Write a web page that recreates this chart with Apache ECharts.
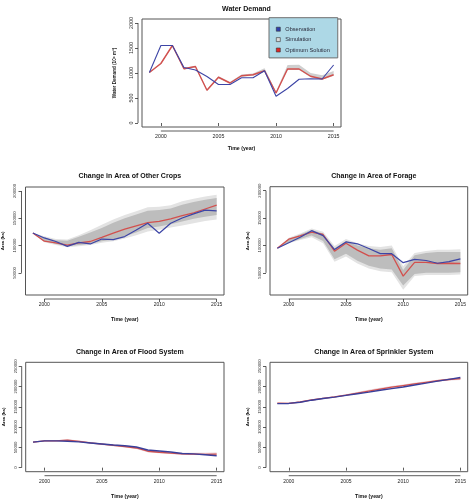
<!DOCTYPE html>
<html>
<head>
<meta charset="utf-8">
<script src="https://cdn.jsdelivr.net/npm/echarts@6/dist/echarts.min.js"></script>
<style>
html,body{margin:0;padding:0;background:#fff;}
#c{width:473px;height:500px;}
</style>
</head>
<body>
<div id="c"></div>
<script>
// ---------- data ----------
const years = [1999,2000,2001,2002,2003,2004,2005,2006,2007,2008,2009,2010,2011,2012,2013,2014,2015];
const xTicks = [2000,2005,2010,2015];

// Water Demand (10^6 m^3)
const wdObs     = [1010,1550,1550,1110,1060,930,770,770,905,905,1045,535,690,875,885,880,1160];
const wdOpt     = [1010,1190,1550,1085,1130,655,915,800,945,965,1045,600,1080,1080,935,880,965];
const wdSimLow  = [1000,1175,1535,1070,1110,640,895,785,925,945,1025,585,1060,1060,915,865,945];
const wdSimHigh = [1020,1205,1560,1100,1145,675,935,820,970,990,1095,625,1160,1165,1000,955,1040];
const wdTicks = [0,500,1000,1500,2000];

// Other Crops (ha)
const ocObs  = [123000,114000,107500,98500,106000,103000,112000,111000,116500,128500,141000,122500,141000,150500,158000,165000,163500];
const ocOpt  = [123000,108000,105000,101000,105000,107500,115000,123000,130000,136000,142000,144500,149000,155000,160000,167000,174000];
const ocLow  = [123000,108000,103000,99000,101000,103000,108000,111000,117000,124000,132000,135000,139000,144000,149000,153000,156000];
const ocHigh = [123000,115000,110000,109000,116000,124000,132000,142000,150000,157000,164000,165000,168000,175000,180000,184000,187000];
const ocMin  = [123000,106000,101000,97000,99000,101000,105000,108000,113000,119000,126000,129000,133000,137000,141000,145000,148000];
const ocMax  = [123000,117000,112000,111000,119000,128000,138000,148000,156000,163000,170000,171000,174000,181000,186000,190000,193000];

// Forage (ha)
const fgObs  = [95000,105000,115000,127000,118000,92500,106500,103000,94500,85000,85000,68500,74500,72500,67500,70500,75500];
const fgOpt  = [95000,111500,117500,124500,120000,89500,104000,91500,81000,81000,83500,44000,69000,69000,67000,67500,67000];
const fgLow  = [95000,105000,112000,118000,108000,75000,85000,72000,63000,58000,56000,27000,48000,50000,50000,50000,51000];
const fgHigh = [95000,112000,120000,128000,122000,95000,108000,100000,95000,92000,95000,55000,82000,86000,88000,88000,88000];
const fgMin  = [95000,104000,110000,115000,104000,70000,80000,67000,58000,53000,51000,19000,44000,46000,46000,46000,47000];
const fgMax  = [95000,114000,122000,131000,125000,99000,112000,104000,99000,97000,100000,62000,86000,90000,92000,92000,93000];

// Flood System (ha)
const flObs  = [63000,66000,66000,65000,63500,61000,58500,56000,54000,51000,43500,41000,38500,35000,34000,32000,29500];
const flOpt  = [63000,66000,66000,68000,65000,61000,58000,55000,52000,48500,40500,38000,36000,34000,33500,33000,33500];
const flLow  = [62000,65000,65000,66000,63000,59000,56000,53000,50000,46000,38000,35500,33500,31500,31000,30500,31000];
const flHigh = [64000,67000,67500,70000,67000,63000,60000,57500,55000,51500,43000,40500,38500,36500,36500,36500,37500];

// Sprinkler System (ha)
const spObs  = [158000,158500,161500,166500,170500,174000,178500,182500,186500,191000,195000,199000,204000,208500,213500,218000,222500];
const spOpt  = [159000,158500,162000,167000,171000,174500,179000,184000,189000,194000,198500,202500,206500,210500,214500,217500,219500];
const spLow  = [157500,157000,160500,165500,169500,173000,177500,182000,187000,191500,196000,200000,204000,208000,212000,215000,216500];
const spHigh = [160000,160000,163500,168500,172500,176500,181000,186500,192000,197000,201500,205500,209500,213500,217000,220000,222000];

const areaTicksMid = [50000,100000,150000,200000];
const areaTicksBot = [0,50000,100000,150000,200000,250000];

const titles = ['Water Demand','Change in Area of Other Crops','Change in Area of Forage','Change in Area of Flood System','Change in Area of Sprinkler System'];

// ---------- layout / style ----------
const BLUE = '#3d45a6', RED = '#d2504e';
const FONT = '"Liberation Sans", Arial, Helvetica, sans-serif';
const grids = [
  {left:142, top:19, width:199, height:108},
  {left:25.5, top:187, width:198.5, height:108},
  {left:270, top:186.7, width:197.7, height:108.3},
  {left:25.7, top:362.3, width:198.3, height:109.4},
  {left:270, top:362.3, width:197.7, height:109.4}
];
const yRanges = [[-80,2080],[9500,207300],[9500,207300],[-10000,260000],[-10000,260000]];
const yTicksAll = [wdTicks, areaTicksMid, areaTicksMid, areaTicksBot, areaTicksBot];
const yNames = ['Water Demand (10\u2076 m\u00b3)','Area (ha)','Area (ha)','Area (ha)','Area (ha)'];
const xNameGap = [15.5,17.7,17.7,18.6,18.6];
const titleTops = [1,168,168,343.2,343.2];

const xAxes = [], yAxes = [], titleOpts = [];
grids.forEach((g,i)=>{
  g.show = true; g.borderColor = '#555'; g.borderWidth = 1; g.backgroundColor = 'transparent';
  g.containLabel = false; g.outerBoundsMode = 'none';
  const top = i===0;
  xAxes.push({
    type:'value', gridIndex:i, min:1998.36, max:2015.64, offset:4,
    axisLine:{show:false},
    axisTick:{show:true, length:3, customValues:xTicks, lineStyle:{color:'#333', width:0.8}},
    axisLabel:{show:true, customValues:xTicks, fontSize: top?5.3:5, margin:3, color:'#222', fontFamily:FONT, formatter:v=>String(v)},
    splitLine:{show:false},
    name:'Time (year)', nameLocation:'middle', nameGap:xNameGap[i],
    nameTextStyle:{fontSize:5.2, fontWeight:'bold', color:'#111', fontFamily:FONT}
  });
  yAxes.push({
    type:'value', gridIndex:i, min:yRanges[i][0], max:yRanges[i][1], offset:4,
    axisLine:{show:false},
    axisTick:{show:true, length:3, customValues:yTicksAll[i], lineStyle:{color:'#333', width:0.8}},
    axisLabel:{show:true, customValues:yTicksAll[i], rotate:90, fontSize: top?5.3:4.2, margin: top?4:4.3, color:'#333', fontFamily:FONT, formatter:v=>String(v)},
    splitLine:{show:false},
    name:yNames[i], nameLocation:'middle', nameGap: top?21:16.3, nameRotate:90,
    nameTextStyle:{fontSize: top?4.6:4.3, fontWeight:'bold', color:'#111', fontFamily:FONT}
  });
  titleOpts.push({
    text:titles[i], left:g.left + g.width/2, top:titleTops[i], textAlign:'center',
    textStyle:{fontSize:7, fontWeight:'bold', color:'#111', fontFamily:FONT}
  });
});

function pts(arr){ return years.map((y,k)=>[y,arr[k]]); }

function band(i, low, high, color, name){
  return {
    type:'custom', name:name||'band', xAxisIndex:i, yAxisIndex:i, silent:true,
    data:[0], z:1,
    renderItem:(params, api)=>{
      const up = years.map((y,k)=>api.coord([y, high[k]]));
      const dn = years.map((y,k)=>api.coord([y, low[k]])).reverse();
      return {type:'polygon', shape:{points: up.concat(dn)}, style:{fill:color}};
    }
  };
}
function line(i, arr, color, name, w, z){
  return {type:'line', name:name, xAxisIndex:i, yAxisIndex:i, data:pts(arr), showSymbol:false, symbol:'none',
    lineStyle:{color:color, width:w||1.1}, itemStyle:{color:color}, z:z||3, silent:true, animation:false};
}

const series = [
  // water demand
  band(0, wdSimLow, wdSimHigh, '#cfcfcf', 'Simulation'),
  line(0, wdOpt, RED, 'Optimum Solution', 1.4, 3),
  line(0, wdObs, BLUE, 'Observation', 1.1, 4),
  // other crops
  band(1, ocMin, ocMax, '#e3e3e3'),
  band(1, ocLow, ocHigh, '#bdbdbd'),
  line(1, ocOpt, RED, 'Optimum Solution', 1.3, 3),
  line(1, ocObs, BLUE, 'Observation', 1.2, 4),
  // forage
  band(2, fgMin, fgMax, '#e3e3e3'),
  band(2, fgLow, fgHigh, '#bdbdbd'),
  line(2, fgOpt, RED, 'Optimum Solution', 1.3, 3),
  line(2, fgObs, BLUE, 'Observation', 1.2, 4),
  // flood
  band(3, flLow, flHigh, 'rgba(215,170,180,0.55)'),
  line(3, flOpt, RED, 'Optimum Solution', 1.3, 3),
  line(3, flObs, '#3a3f9a', 'Observation', 1.4, 4),
  // sprinkler
  band(4, spLow, spHigh, 'rgba(215,170,180,0.55)'),
  line(4, spOpt, RED, 'Optimum Solution', 1.3, 3),
  line(4, spObs, '#3a3f9a', 'Observation', 1.4, 4)
];

const chart = echarts.init(document.getElementById('c'), null, {renderer:'canvas'});
chart.setOption({
  animation:false,
  backgroundColor:'#fff',
  title:titleOpts,
  grid:grids,
  xAxis:xAxes,
  yAxis:yAxes,
  legend:{
    left:269, top:17.7, orient:'vertical', selectedMode:false,
    backgroundColor:'#add8e6', borderColor:'#6f6f6f', borderWidth:1,
    padding:[8.5,8,4.9,7], itemWidth:4, itemHeight:4, itemGap:4.4, icon:'rect',
    textStyle:{fontSize:5.6, color:'#2a2a3a', fontFamily:FONT},
    data:[
      {name:'Observation', itemStyle:{color:'#2f3fb0', borderColor:'#333', borderWidth:0.6}},
      {name:'Simulation', itemStyle:{color:'#d9d9d9', borderColor:'#333', borderWidth:0.6}},
      {name:'Optimum Solution', itemStyle:{color:'#e02828', borderColor:'#333', borderWidth:0.6}}
    ]
  },
  series:series
});

// R-style axis lines spanning only the tick range, placed via the chart's own scales
const gfx = [];
grids.forEach((g,i)=>{
  const yt = yTicksAll[i];
  const xb = chart.convertToPixel({xAxisIndex:i}, xTicks[0]);
  const xe = chart.convertToPixel({xAxisIndex:i}, xTicks[xTicks.length-1]);
  const yBottom = chart.convertToPixel({yAxisIndex:i}, yRanges[i][0]);
  const xLeft = chart.convertToPixel({xAxisIndex:i}, 1998.36);
  const yb = chart.convertToPixel({yAxisIndex:i}, yt[0]);
  const ye = chart.convertToPixel({yAxisIndex:i}, yt[yt.length-1]);
  gfx.push({type:'line', shape:{x1:xb, y1:yBottom+4, x2:xe, y2:yBottom+4}, style:{stroke:'#333', lineWidth:0.8}, silent:true});
  gfx.push({type:'line', shape:{x1:xLeft-4, y1:yb, x2:xLeft-4, y2:ye}, style:{stroke:'#333', lineWidth:0.8}, silent:true});
});
chart.setOption({graphic:gfx});
</script>
</body>
</html>
